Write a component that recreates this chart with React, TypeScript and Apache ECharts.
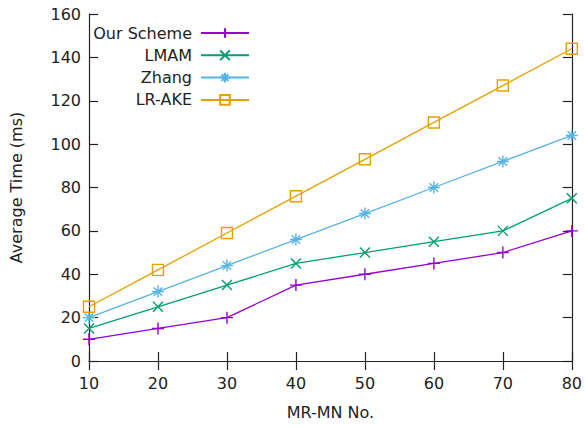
import React, { useEffect, useRef } from "react";
import * as echarts from "echarts";

const xValues = [10, 20, 30, 40, 50, 60, 70, 80];
const ourScheme = [10, 15, 20, 35, 40, 45, 50, 60];
const lmam = [15, 25, 35, 45, 50, 55, 60, 75];
const zhang = [20, 32, 44, 56, 68, 80, 92, 104];
const lrAke = [25, 42, 59, 76, 93, 110, 127, 144];

const seriesNames = ["Our Scheme", "LMAM", "Zhang", "LR-AKE"];
const seriesColors = ["#9400d3", "#009e73", "#56b4e9", "#e69f00"];
const seriesData = [ourScheme, lmam, zhang, lrAke];

const SYMBOLS = [
  "path://M0,5L10,5M5,0L5,10",
  "path://M0,0L10,10M0,10L10,0",
  "path://M0,5L10,5M5,0L5,10M1.5,1.5L8.5,8.5M1.5,8.5L8.5,1.5",
  "rect",
];
const SYMBOL_SIZES = [12, 10, 12, 11];

const FONT = "DejaVu Sans";

export default function App() {
  const ref = useRef<HTMLDivElement>(null);
  useEffect(() => {
    if (!ref.current) return;
    const chart = echarts.init(ref.current, null, { renderer: "svg" });
    const axisLine = { show: true, lineStyle: { color: "#222", width: 1.2 } };
    const axisTick = { show: true, inside: true, length: 9, lineStyle: { color: "#222", width: 1.2 } };
    const labelStyle = { color: "#222", fontFamily: FONT, fontSize: 16 };
    const grid = { left: 83, top: 14, width: 490, height: 347 };

    const series = seriesNames.map((name, i) => ({
      name,
      type: "line",
      data: xValues.map((x, j) => [x, seriesData[i][j]]),
      symbol: SYMBOLS[i],
      symbolSize: SYMBOL_SIZES[i],
      showAllSymbol: true,
      itemStyle: { color: "rgba(0,0,0,0)", borderColor: seriesColors[i], borderWidth: 1.4 },
      lineStyle: { color: seriesColors[i], width: 1.3 },
      emphasis: { disabled: true },
    }));

    const legends = seriesNames.map((name, i) => ({
      data: [name],
      orient: "horizontal",
      right: 585 - 250,
      top: 25 + i * 22.3,
      align: "right",
      itemWidth: 48,
      itemHeight: 12,
      itemGap: 0,
      padding: 0,
      selectedMode: false,
      textStyle: { color: "#222", fontFamily: FONT, fontSize: 16, padding: [0, 4, 0, 0] },
    }));

    chart.setOption({
      animation: false,
      backgroundColor: "#fff",
      grid,
      legend: legends,
      xAxis: [
        {
          type: "value",
          min: 10,
          max: 80,
          interval: 10,
          name: "MR-MN No.",
          nameLocation: "middle",
          nameGap: 43,
          nameTextStyle: { color: "#222", fontFamily: FONT, fontSize: 16 },
          axisLine,
          axisTick,
          axisLabel: { ...labelStyle, margin: 14 },
          splitLine: { show: false },
        },
        {
          type: "value",
          position: "top",
          min: 10,
          max: 80,
          interval: 10,
          axisLine,
          axisTick,
          axisLabel: { show: false },
          splitLine: { show: false },
        },
      ],
      yAxis: [
        {
          type: "value",
          min: 0,
          max: 160,
          interval: 20,
          name: "Average Time (ms)",
          nameLocation: "middle",
          nameGap: 65,
          nameRotate: 90,
          nameTextStyle: { color: "#222", fontFamily: FONT, fontSize: 16 },
          axisLine,
          axisTick,
          axisLabel: { ...labelStyle, margin: 8 },
          splitLine: { show: false },
        },
        {
          type: "value",
          position: "right",
          min: 0,
          max: 160,
          interval: 20,
          axisLine,
          axisTick,
          axisLabel: { show: false },
          splitLine: { show: false },
        },
      ],
      series,
    });
    return () => chart.dispose();
  }, []);
  return <div ref={ref} style={{ width: 585, height: 428, position: "absolute", left: 0, top: 0 }} />;
}
